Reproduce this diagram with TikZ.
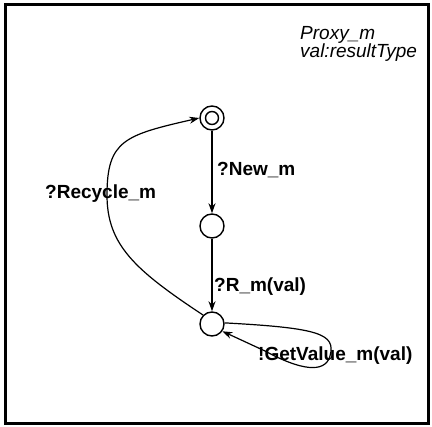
\documentclass[tikz,border=0pt]{standalone}
\usepackage{fontspec}
\setmainfont{Liberation Sans}
\usetikzlibrary{arrows.meta}

\tikzset{
  state/.style={draw,circle,line width=1.4pt,minimum size=24pt,inner sep=0pt},
  lbl/.style={font=\fontsize{19}{19}\selectfont\bfseries,inner sep=0pt},
  trans/.style={line width=1.2pt,-{Stealth[length=10pt,width=7pt]}}
}

\begin{document}
\begin{tikzpicture}[x=1pt,y=-1pt]
\useasboundingbox (0,0) rectangle (432,427);

\draw[line width=3pt] (5,5) rectangle (428,424);

\node[font=\fontsize{19}{16.5}\selectfont\itshape,align=left,anchor=north west,inner sep=0pt]
  (title) at (300,26) {Proxy\_m\\val:resultType};

\node[state] (idle) at (212,118) {};
\node[draw,circle,line width=1.4pt,minimum size=13pt,inner sep=0pt] (idlein) at (212,118) {};
\node[state] (created) at (212,226) {};
\node[state] (ready) at (212,324) {};

\draw[trans] (idle) -- (created);
\draw[trans] (created) -- (ready);

\draw[trans] (ready.135) .. controls (135,270) and (107,245) .. (107,195)
  .. controls (107,140) and (125,135) .. (idle.west);
\draw[trans] (ready.5) .. controls (320,328) and (336,334) .. (330,356)
  .. controls (325,374) and (300,370) .. (265,351) -- (ready.-35);

\node[lbl,anchor=west] (newm) at (217,170) {?New\_m};
\node[lbl,anchor=west] (rm) at (214,287) {?R\_m(val)};
\node[lbl,anchor=west] (recycle) at (45,194) {?Recycle\_m};
\node[lbl,anchor=west] (getvalue) at (258,356) {!GetValue\_m(val)};

\end{tikzpicture}
\end{document}
